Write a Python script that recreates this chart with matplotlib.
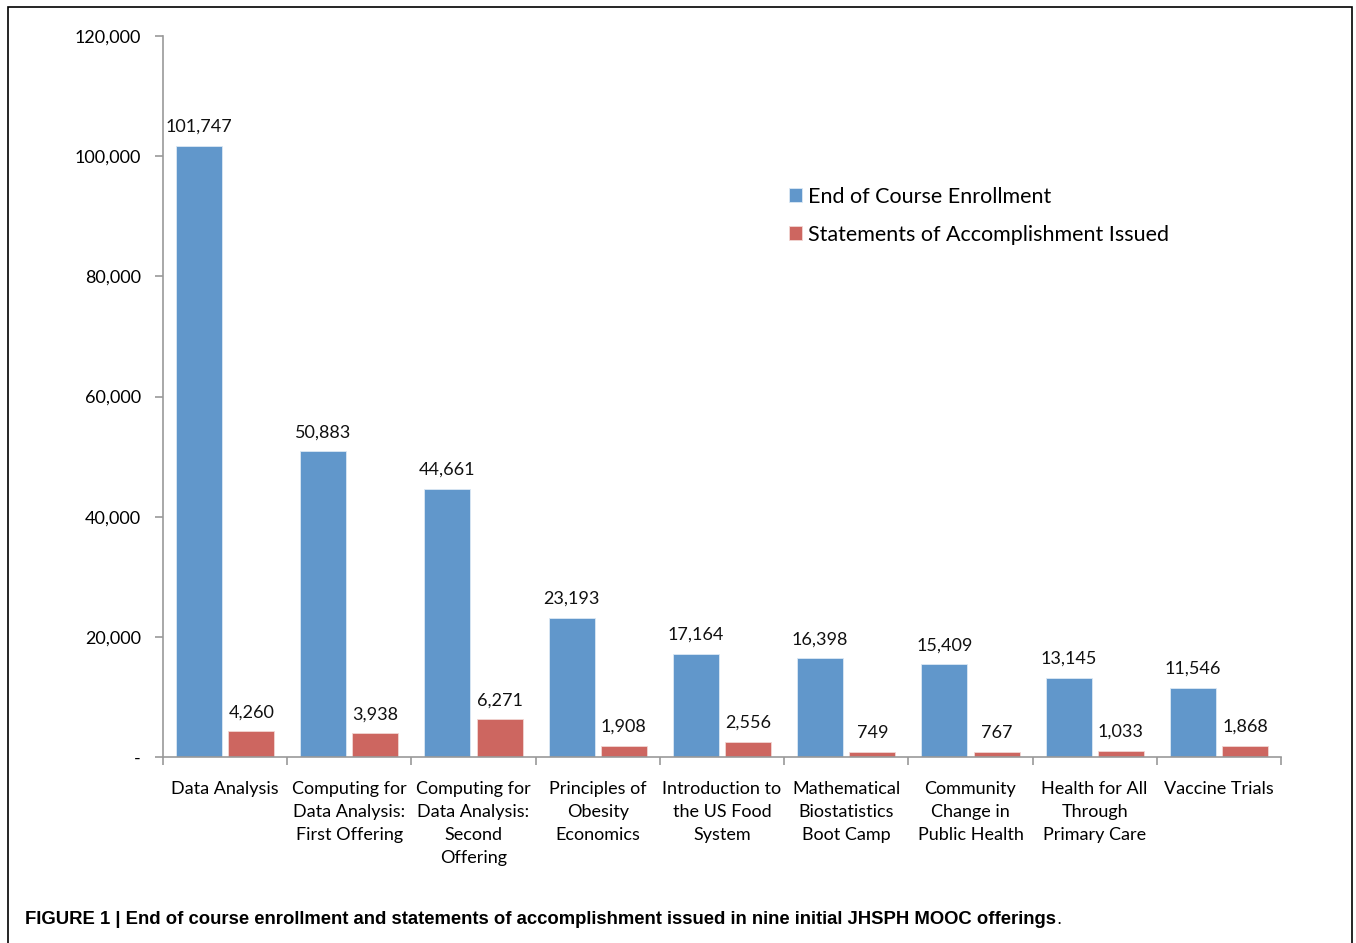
import matplotlib
matplotlib.use("Agg")
import matplotlib.pyplot as plt
import numpy as np
from matplotlib.patches import Rectangle

categories = ["Data Analysis",
              "Computing for\nData Analysis:\nFirst Offering",
              "Computing for\nData Analysis:\nSecond\nOffering",
              "Principles of\nObesity\nEconomics",
              "Introduction to\nthe US Food\nSystem",
              "Mathematical\nBiostatistics\nBoot Camp",
              "Community\nChange in\nPublic Health",
              "Health for All\nThrough\nPrimary Care",
              "Vaccine Trials"]
enrollment = [101747, 50883, 44661, 23193, 17164, 16398, 15409, 13145, 11546]
statements = [4260, 3938, 6271, 1908, 2556, 749, 767, 1033, 1868]
series_names = ["End of Course Enrollment", "Statements of Accomplishment Issued"]
yticks = [0, 20000, 40000, 60000, 80000, 100000, 120000]

plt.rcParams['font.family'] = ['Lato', 'DejaVu Sans']

fig = plt.figure(figsize=(13.56, 9.43), dpi=100)
ax = fig.add_axes([163/1356, 1-757/943, (1281-163)/1356, (757-36)/943])

blue = '#6197cb'
red = '#cd6660'
x = np.arange(len(categories))
w = 0.37
off = 0.21
b1 = ax.bar(x - off, enrollment, w, color=blue, edgecolor='#dce8f4', linewidth=0.6, label=series_names[0])
b2 = ax.bar(x + off, statements, w, color=red, edgecolor='#f2d6d4', linewidth=0.6, label=series_names[1])

for rect, v in zip(list(b1) + list(b2), enrollment + statements):
    ax.annotate(f"{v:,}", (rect.get_x() + rect.get_width()/2, v),
                xytext=(0, 8), textcoords='offset points', ha='center', va='bottom',
                fontsize=13, color='#111111')

ax.set_xlim(-0.5, len(categories) - 0.5)
ax.set_ylim(0, 120000)
ax.set_yticks(yticks)
ax.set_yticklabels(['-' if t == 0 else f"{t:,}" for t in yticks], fontsize=13)
ax.set_xticks(x)
ax.set_xticklabels(categories, fontsize=13, linespacing=1.55, va='top')
ax.set_xticks(np.arange(-0.5, len(categories)), minor=True)
ax.tick_params(axis='x', which='major', length=0, pad=17)
ax.tick_params(axis='x', which='minor', length=6, direction='out', color='#999999', width=1.2)
ax.tick_params(axis='y', length=6, direction='out', color='#999999', width=1.2, pad=10)

for s in ['top', 'right']:
    ax.spines[s].set_visible(False)
for s in ['left', 'bottom']:
    ax.spines[s].set_color('#999999')
    ax.spines[s].set_linewidth(1.2)

leg = ax.legend(loc='upper left', bbox_to_anchor=((780-163)/1118, (757-178)/721),
                frameon=False, fontsize=15.5, handlelength=0.6, handleheight=0.6,
                handletextpad=0.3, labelspacing=0.85, borderaxespad=0)

cap = fig.text(25/1356, 1-919/943,
         "FIGURE 1 | End of course enrollment and statements of accomplishment issued in nine initial JHSPH MOOC offerings",
         fontsize=13.3, fontweight='bold', family='Liberation Sans', va='center', ha='left')
fig.canvas.draw()
bb = cap.get_window_extent()
fig.text(bb.x1 / fig.bbox.width, 1-919/943, ".", fontsize=13.3, family='Liberation Sans',
         va='center', ha='left')

fig.patches.append(Rectangle((8/1356, -0.05), (1352-8)/1356, 1.05 - 7/943,
                             transform=fig.transFigure, fill=False, edgecolor='black',
                             linewidth=1.2))

fig.savefig("out.png", dpi=100)
